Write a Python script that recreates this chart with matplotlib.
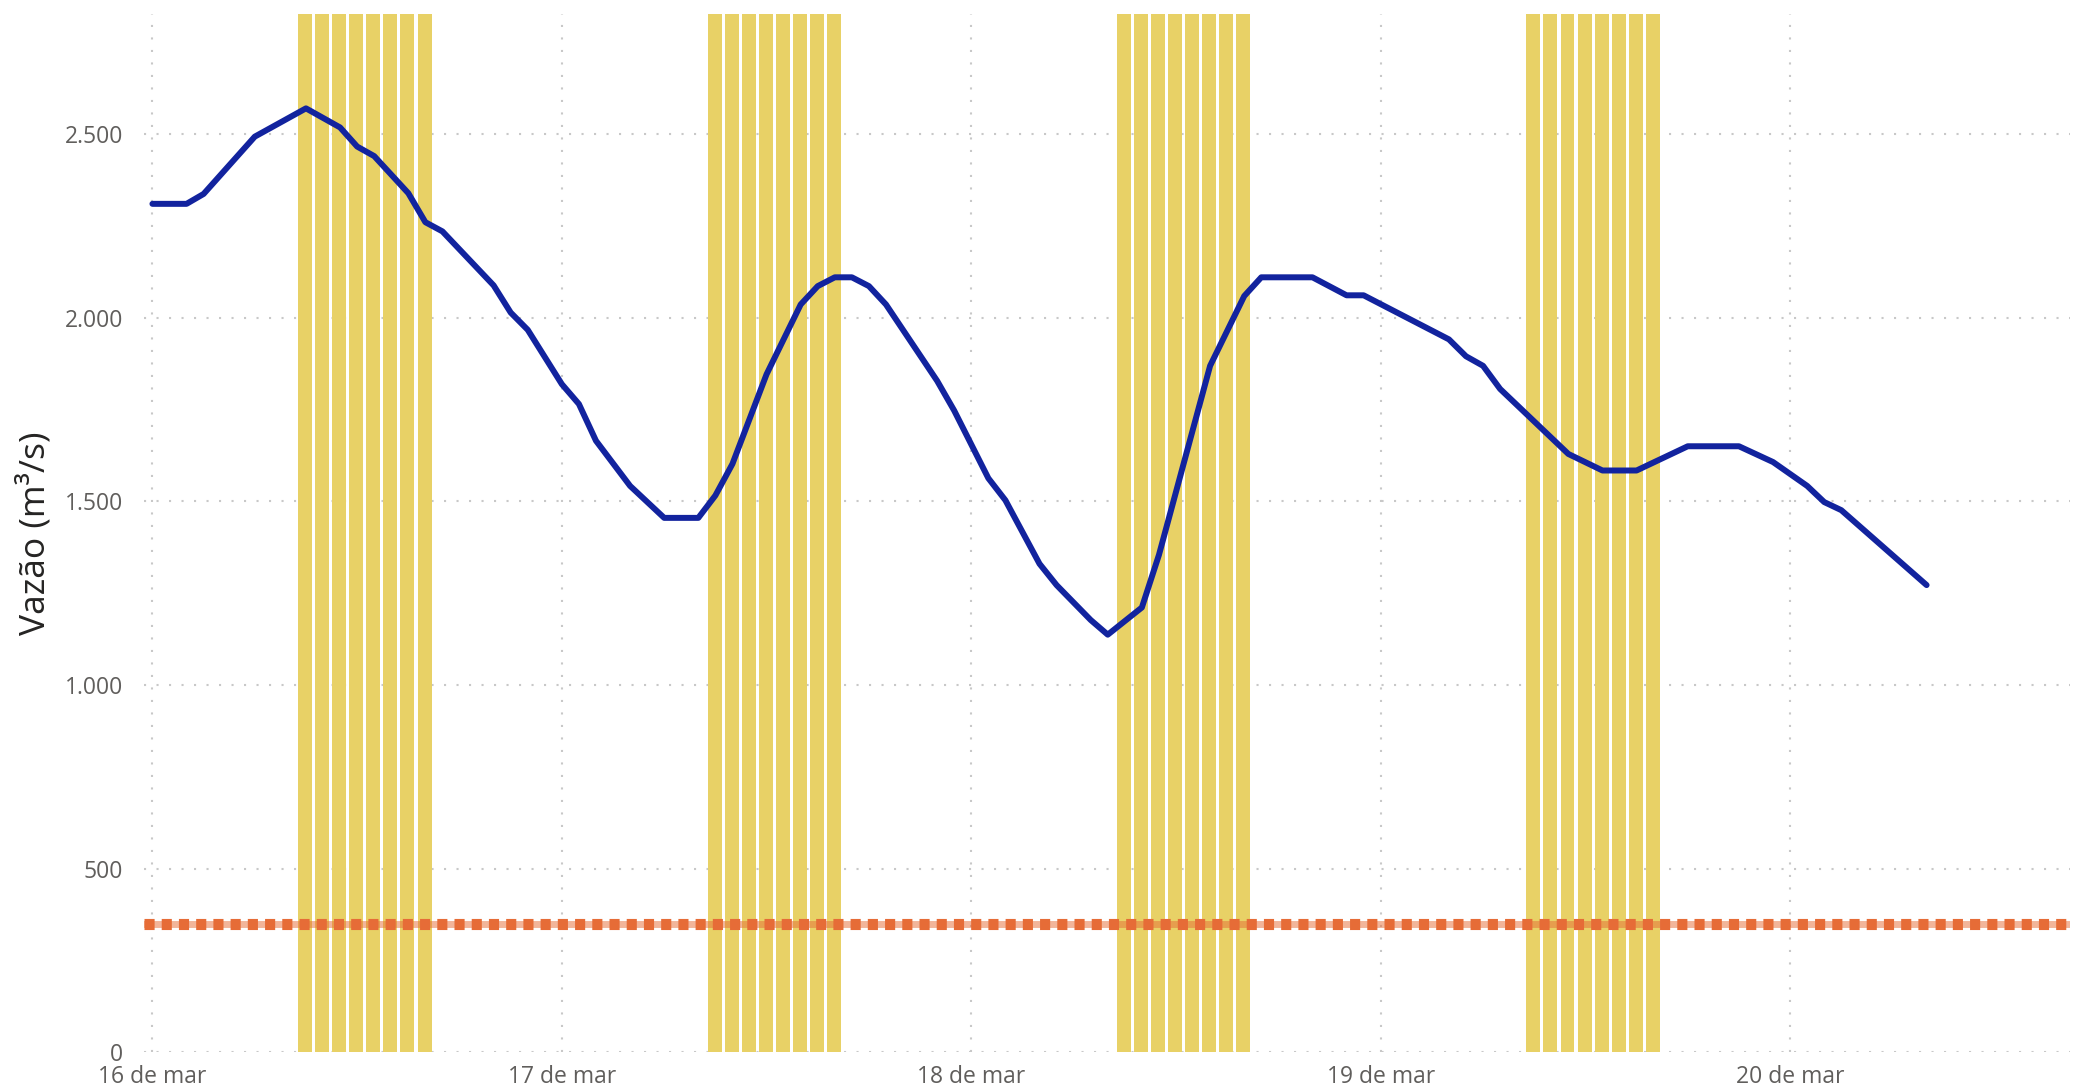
import matplotlib
matplotlib.use("Agg")
import matplotlib.pyplot as plt
from matplotlib.ticker import FuncFormatter, FixedLocator

# ---- data ----
hours = [0, 2, 3, 6, 9, 11, 12, 13, 15, 16, 17, 20, 21, 22, 24, 25, 26, 28, 30, 32,
         33, 34, 36, 38, 39, 40, 41, 42, 43, 46, 47, 49, 50, 52, 53, 55, 56, 58, 59,
         62, 64, 65, 68, 70, 71, 76, 77, 78, 79, 83, 85, 87, 90, 93, 95, 97, 98, 99, 104]
vazao = [2310, 2310, 2337, 2493, 2570, 2518, 2466, 2440, 2339, 2260, 2235, 2088, 2014,
         1967, 1819, 1765, 1665, 1542, 1455, 1455, 1516, 1602, 1846, 2036, 2086, 2110,
         2110, 2086, 2036, 1828, 1747, 1563, 1503, 1330, 1272, 1177, 1137, 1211, 1354,
         1869, 2059, 2110, 2110, 2061, 2061, 1941, 1895, 1869, 1806, 1629, 1584, 1584,
         1650, 1650, 1607, 1542, 1498, 1476, 1272]
vazao_minima = 350
peak_days = [0, 1, 2, 3]
peak_hours = [9, 10, 11, 12, 13, 14, 15, 16]
tick_hours = [0, 24, 48, 72, 96]
tick_labels = ["16 de mar", "17 de mar", "18 de mar", "19 de mar", "20 de mar"]
y_ticks = [0, 500, 1000, 1500, 2000, 2500]

BLUE = "#12239E"
ORANGE = "#E66C37"
YELLOW = "#E8D166"
GRID = "#C8C8C8"
TICK = "#605E5C"
TITLE = "#252423"

plt.rcParams["font.family"] = ["Open Sans", "DejaVu Sans"]

fig = plt.figure(figsize=(20.73, 10.91), dpi=100)
ax = fig.add_axes([0.0695, 0.0355, 0.929, 0.9517])

# peak-hour bars
bar_w = 0.82
for d in peak_days:
    for h in peak_hours:
        c = d * 24 + h - 0.05
        ax.axvspan(c - bar_w / 2, c + bar_w / 2, color=YELLOW, lw=0, zorder=1)

# minimum flow line
ax.axhline(vazao_minima, color=ORANGE, alpha=0.5, lw=5.0, zorder=3)
ax.axhline(vazao_minima, color=ORANGE, lw=8.0, dashes=(0.91, 0.64),
           dash_capstyle="butt", zorder=3)

# flow line
ax.plot(hours, vazao, color=BLUE, lw=4.3, solid_joinstyle="round",
        solid_capstyle="round", zorder=4)

ax.set_xlim(-0.49, 112.4)
ax.set_ylim(0, 2827)

ax.xaxis.set_major_locator(FixedLocator(tick_hours))
ax.set_xticklabels(tick_labels)
ax.yaxis.set_major_locator(FixedLocator(y_ticks))
ax.yaxis.set_major_formatter(FuncFormatter(lambda v, p: f"{int(v):,}".replace(",", ".")))

ax.tick_params(axis="both", length=0, labelsize=16.5, labelcolor=TICK)
ax.tick_params(axis="y", pad=15)
ax.tick_params(axis="x", pad=9)

ax.set_axisbelow(True)
ax.grid(True, color=GRID, lw=1.5, linestyle=(0, (1, 5)), zorder=0)

for s in ax.spines.values():
    s.set_visible(False)

ax.set_ylabel("Vazão (m³/s)", fontsize=25.5, color=TITLE, fontweight="medium")
ax.yaxis.set_label_coords(-0.0478, 0.5)

fig.savefig("out.png", dpi=100, facecolor="white")
